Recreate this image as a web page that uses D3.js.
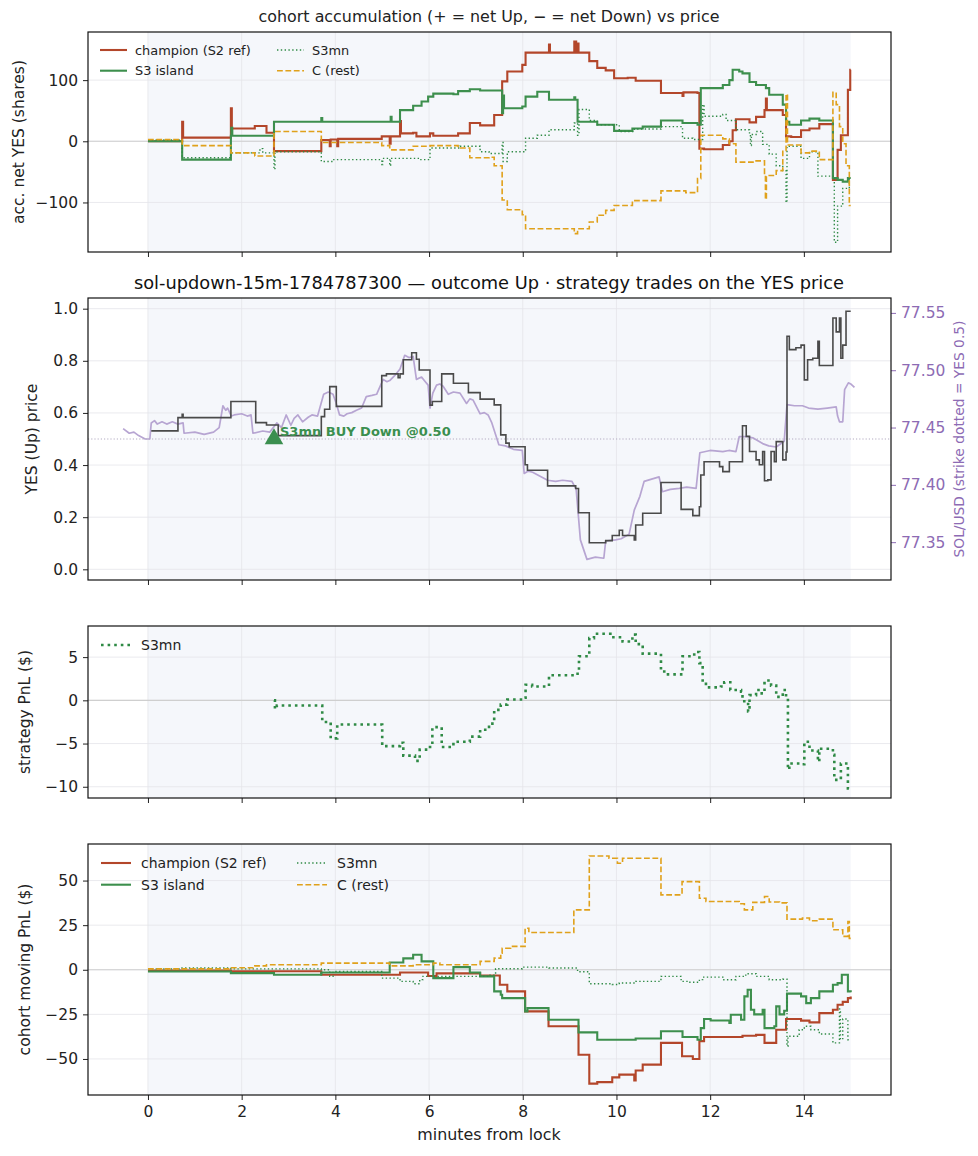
<!DOCTYPE html>
<html>
<head>
<meta charset="utf-8">
<script src="https://cdn.jsdelivr.net/npm/d3@7"></script>
<style>
  body { margin: 0; background: #fff; }
  svg { font-family: "DejaVu Sans", sans-serif; }
</style>
</head>
<body>
<div id="chart"></div>
<script>
// ---- data (minutes from lock, value) ----
const xTicks = [0, 2, 4, 6, 8, 10, 12, 14];

// panel 1: accumulated net YES shares per cohort
const accChampion = [[0,0],[0.73,32],[0.75,6],[1.77,54],[1.79,21],[2.28,25],[2.53,14],[2.69,-16],[3.70,2],[3.88,-8],[3.90,3],[4.04,-8],[4.06,4],[4.99,8],[5.16,-4],[5.18,8],[5.38,33],[5.40,13],[5.66,14],[5.73,8],[6.02,13],[6.09,9],[6.62,13],[6.87,30],[7.09,26],[7.39,43],[7.56,98],[7.67,114],[7.99,125],[8.06,145],[8.56,158],[8.58,145],[9.10,163],[9.14,145],[9.17,160],[9.19,145],[9.42,131],[9.59,120],[9.77,116],[9.95,103],[10.24,104],[10.41,99],[10.95,79],[11.41,74],[11.43,80],[11.73,79],[11.77,-12],[11.87,-13],[12.27,-6],[12.41,0],[12.48,18],[12.55,36],[12.84,31],[12.98,40],[13.16,51],[13.19,70],[13.21,51],[13.55,43],[13.62,8],[13.73,7],[13.94,18],[14.12,21],[14.33,28],[14.62,-63],[14.72,-14],[14.79,10],[14.94,84],[14.99,117],[15.0,117]];
const accIsland = [[0,0],[0.73,-30],[1.77,9],[1.78,22],[1.80,9],[2.69,32],[3.70,38],[3.72,32],[5.16,32],[5.18,40],[5.20,32],[5.38,51],[5.66,58],[5.84,65],[5.98,73],[6.09,78],[6.52,77],[6.62,82],[6.87,85],[7.09,83],[7.56,46],[7.58,75],[7.60,54],[7.99,57],[8.06,73],[8.31,81],[8.56,68],[9.10,72],[9.12,68],[9.17,32],[9.59,27],[9.95,17],[10.34,21],[10.56,24],[10.95,34],[11.41,30],[11.73,27],[11.80,87],[12.27,92],[12.41,100],[12.48,117],[12.62,114],[12.69,111],[12.84,97],[12.98,92],[13.19,87],[13.26,76],[13.55,60],[13.62,32],[13.69,27],[13.94,34],[14.12,37],[14.33,34],[14.62,-60],[14.72,-63],[14.83,-66],[14.94,-60],[15.0,-60]];
const accS3mn = [[0,2],[0.73,-27],[1.77,-19],[2.39,-12],[2.45,-19],[2.69,-46],[2.71,-17],[3.70,-33],[3.95,-30],[4.99,-38],[5.01,-28],[5.16,-40],[5.18,-28],[5.80,-30],[6.02,-11],[6.66,-8],[7.09,-17],[7.28,-20],[7.56,-2],[7.58,-33],[7.67,-17],[8.06,5],[8.31,10],[8.56,19],[9.10,30],[9.17,10],[9.20,52],[9.42,34],[9.59,27],[10.06,16],[10.38,20],[10.95,24],[11.41,5],[11.63,3],[11.84,60],[11.87,41],[12.27,44],[12.34,34],[12.55,19],[12.84,11],[12.86,-7],[12.88,11],[12.98,16],[13.12,-5],[13.26,-21],[13.41,-40],[13.55,-48],[13.62,-100],[13.64,-8],[13.94,-28],[14.12,-17],[14.30,-57],[14.62,-57],[14.65,-165],[14.72,-106],[14.83,-77],[14.97,-62],[15.0,-62]];
const accRest = [[0,3],[0.73,-7],[1.77,-19],[2.28,-24],[2.69,16],[3.70,-2],[4.99,-7],[5.16,-14],[5.66,-8],[6.02,-7],[6.62,-11],[6.87,-27],[7.28,-26],[7.39,-40],[7.56,-96],[7.67,-112],[7.99,-120],[8.06,-143],[9.10,-151],[9.17,-143],[9.42,-132],[9.59,-121],[9.77,-113],[9.95,-105],[10.34,-97],[10.95,-81],[11.48,-84],[11.73,-61],[11.80,10],[12.27,4],[12.41,-4],[12.55,-34],[12.98,-32],[13.16,-56],[13.18,-95],[13.20,-56],[13.41,-48],[13.55,-15],[13.62,77],[13.65,-6],[13.94,-19],[14.12,-16],[14.33,-30],[14.62,80],[14.69,60],[14.76,24],[14.83,-4],[14.90,-40],[14.97,-105],[15.0,-105]];

// panel 2: YES (Up) price and SOL/USD
const yesPrice = [[0.07,0.531],[0.64,0.582],[0.73,0.595],[0.75,0.582],[1.77,0.644],[2.30,0.563],[2.53,0.554],[2.78,0.513],[3.70,0.586],[3.77,0.614],[3.88,0.701],[4.02,0.625],[4.99,0.743],[5.09,0.750],[5.34,0.735],[5.38,0.750],[5.45,0.804],[5.63,0.831],[5.73,0.806],[5.79,0.765],[6.02,0.63],[6.07,0.644],[6.27,0.750],[6.52,0.714],[6.84,0.678],[7.09,0.653],[7.39,0.631],[7.53,0.516],[7.64,0.484],[7.71,0.47],[8.05,0.401],[8.10,0.38],[8.53,0.32],[9.13,0.31],[9.19,0.217],[9.42,0.102],[9.77,0.11],[9.91,0.13],[10.06,0.15],[10.13,0.13],[10.38,0.113],[10.41,0.17],[10.56,0.215],[10.95,0.333],[11.38,0.23],[11.63,0.206],[11.77,0.24],[11.80,0.362],[11.87,0.413],[12.20,0.394],[12.27,0.375],[12.41,0.413],[12.69,0.551],[12.77,0.51],[12.84,0.452],[12.98,0.42],[13.05,0.401],[13.12,0.452],[13.16,0.34],[13.23,0.343],[13.30,0.452],[13.37,0.413],[13.41,0.49],[13.55,0.42],[13.62,0.45],[13.64,0.894],[13.69,0.843],[13.83,0.85],[13.94,0.86],[14.01,0.727],[14.08,0.804],[14.19,0.81],[14.30,0.875],[14.33,0.782],[14.62,0.964],[14.69,0.911],[14.76,0.964],[14.79,0.81],[14.83,0.86],[14.90,0.99],[15.0,0.99]];
const solPrice = [[-0.53,77.449],[-0.40,77.445],[-0.30,77.446],[-0.20,77.443],[-0.06,77.440],[0.04,77.440],[0.07,77.454],[0.14,77.456],[0.20,77.453],[0.30,77.455],[0.40,77.453],[0.52,77.455],[0.64,77.453],[0.75,77.454],[0.77,77.445],[1.00,77.446],[1.20,77.444],[1.40,77.446],[1.52,77.450],[1.60,77.469],[1.66,77.465],[1.70,77.467],[1.78,77.460],[1.84,77.461],[2.00,77.462],[2.12,77.460],[2.20,77.461],[2.24,77.445],[2.45,77.447],[2.60,77.446],[2.75,77.454],[2.85,77.450],[2.95,77.461],[3.05,77.452],[3.12,77.458],[3.20,77.461],[3.30,77.455],[3.42,77.459],[3.50,77.461],[3.62,77.460],[3.75,77.479],[3.85,77.481],[3.95,77.479],[4.02,77.471],[4.09,77.461],[4.18,77.460],[4.25,77.462],[4.35,77.463],[4.45,77.465],[4.56,77.467],[4.66,77.477],[4.78,77.478],[4.88,77.479],[5.02,77.492],[5.10,77.490],[5.16,77.491],[5.28,77.496],[5.38,77.501],[5.48,77.513],[5.57,77.511],[5.66,77.512],[5.73,77.492],[5.84,77.494],[5.92,77.490],[5.98,77.487],[6.02,77.467],[6.08,77.480],[6.16,77.487],[6.23,77.488],[6.30,77.486],[6.41,77.479],[6.52,77.481],[6.66,77.480],[6.80,77.471],[6.87,77.475],[6.94,77.474],[7.09,77.462],[7.18,77.463],[7.26,77.461],[7.34,77.454],[7.49,77.435],[7.63,77.434],[7.80,77.431],[7.99,77.430],[8.03,77.410],[8.12,77.412],[8.21,77.411],[8.35,77.408],[8.53,77.404],[8.70,77.403],[8.85,77.404],[9.05,77.403],[9.14,77.396],[9.23,77.352],[9.37,77.335],[9.55,77.337],[9.73,77.336],[9.77,77.351],[9.98,77.352],[10.10,77.353],[10.27,77.357],[10.38,77.378],[10.50,77.390],[10.59,77.403],[10.75,77.405],[10.91,77.407],[10.98,77.394],[11.15,77.396],[11.34,77.397],[11.50,77.398],[11.70,77.397],[11.78,77.428],[12.00,77.430],[12.27,77.429],[12.40,77.430],[12.55,77.429],[12.62,77.442],[12.80,77.442],[12.91,77.441],[13.12,77.436],[13.25,77.434],[13.41,77.433],[13.58,77.438],[13.64,77.470],[13.80,77.469],[13.97,77.469],[14.10,77.467],[14.30,77.466],[14.50,77.467],[14.69,77.468],[14.72,77.460],[14.76,77.455],[14.83,77.455],[14.87,77.483],[14.95,77.489],[15.00,77.488],[15.08,77.485]];
const strikeUsd = 77.4404;
const trade = { t: 2.69, price: 0.50, label: 'S3mn BUY Down @0.50' };

// panel 3: strategy PnL
const stratPnl = [[2.69,0],[2.71,-1.0],[2.75,-0.6],[3.70,-0.6],[3.72,-2.5],[3.88,-2.5],[3.90,-4.4],[4.02,-4.4],[4.04,-2.8],[4.99,-2.8],[5.0,-5.3],[5.38,-4.9],[5.45,-6.4],[5.70,-7.0],[5.80,-5.7],[6.02,-5.4],[6.07,-3.1],[6.27,-5.4],[6.52,-4.8],[6.87,-4.2],[7.09,-3.4],[7.28,-2.7],[7.39,-1.1],[7.53,-0.5],[7.67,0.1],[7.99,0.3],[8.06,1.8],[8.20,1.6],[8.56,2.9],[9.17,3.5],[9.20,5.1],[9.42,7.2],[9.52,7.7],[9.87,7.3],[10.13,6.8],[10.34,7.6],[10.41,6.5],[10.56,5.4],[10.95,3.5],[11.02,3.0],[11.41,5.1],[11.66,5.6],[11.77,4.3],[11.84,2.1],[11.91,1.5],[12.23,1.6],[12.30,2.1],[12.43,1.2],[12.66,1.0],[12.69,-0.1],[12.81,-1.3],[12.84,0.6],[12.98,1.2],[13.10,0.8],[13.16,2.3],[13.30,1.7],[13.41,0.4],[13.55,1.2],[13.62,0.4],[13.66,-8.0],[13.69,-7.3],[13.94,-7.4],[14.01,-4.8],[14.12,-5.8],[14.30,-7.1],[14.33,-5.6],[14.62,-6.3],[14.65,-9.2],[14.79,-7.3],[14.90,-7.3],[14.94,-10.2],[15.0,-10.2]];

// panel 4: cohort moving PnL
const pnlChampion = [[0,-0.4],[1.77,-0.8],[3.70,-2.8],[5.38,-1.5],[5.98,-3.5],[6.16,-2.0],[7.09,-3.2],[7.51,-8.4],[7.67,-12.1],[8.05,-23.3],[8.55,-31.7],[9.19,-47.6],[9.42,-63.8],[9.59,-63],[9.91,-60.3],[10.06,-58.8],[10.38,-62],[10.41,-56.5],[10.56,-53.2],[10.95,-41.0],[11.40,-48.5],[11.63,-50],[11.77,-40],[11.87,-37.7],[12.69,-37],[12.98,-36.5],[13.16,-41],[13.41,-33.6],[13.62,-27.6],[13.94,-28.5],[14.12,-29.5],[14.33,-24.3],[14.62,-22.4],[14.72,-19.6],[14.83,-18],[14.94,-15.9],[15.0,-15]];
const pnlIsland = [[0,-1],[1.77,-1.9],[2.69,-2.8],[3.70,-1.5],[5.16,4.1],[5.45,6.4],[5.66,8.4],[5.84,4.7],[6.09,-4.7],[6.52,1.5],[6.87,-1.5],[7.09,-3.7],[7.39,-12.1],[7.53,-14.0],[7.56,-15.9],[8.05,-23.3],[8.10,-21.5],[8.55,-28],[9.19,-35.1],[9.59,-39.2],[10.41,-38.5],[10.95,-34.5],[11.41,-37.7],[11.73,-39.2],[11.80,-32.7],[11.87,-27.6],[12.01,-28.4],[12.41,-29.8],[12.44,-25.2],[12.66,-28],[12.73,-14.9],[12.80,-11.2],[12.87,-22.4],[12.94,-25],[13.12,-22.4],[13.16,-32.7],[13.37,-31.7],[13.41,-20.5],[13.48,-25],[13.58,-23],[13.64,-13.4],[13.94,-14.9],[14.05,-18.7],[14.15,-15.9],[14.33,-12.1],[14.62,-8.4],[14.72,-7.5],[14.81,-2.8],[14.94,-12.1],[15.0,-12.6]];
const pnlS3mn = [[0,0.5],[0.7,1],[1.77,0.5],[3.70,0],[3.88,-3.7],[3.95,-1],[4.99,-4.7],[5.38,-6.5],[5.66,-7.8],[5.80,-5.5],[5.87,-3.7],[7.28,-3.0],[7.42,0.6],[7.99,1.5],[8.56,1],[9.17,-1.1],[9.42,-7.8],[9.91,-8.3],[10.06,-7.4],[10.41,-6.5],[10.95,-3.7],[11.38,-6.5],[11.55,-7.0],[11.77,-5.5],[11.84,-4.1],[12.27,-5.6],[12.55,-3.7],[12.76,-2.2],[12.98,-3.7],[13.26,-5.6],[13.55,-5.3],[13.64,-42.9],[13.66,-37.3],[13.90,-33.6],[14.01,-31.7],[14.15,-33.6],[14.33,-36.0],[14.62,-41],[14.76,-22],[14.78,-39],[14.83,-27.6],[14.94,-39.2],[15.0,-39.5]];
const pnlRest = [[0,0.5],[1.77,1.1],[2.28,2.2],[2.53,2.8],[3.70,3.7],[5.16,2.2],[5.66,2.8],[6.09,3.7],[6.23,2.8],[7.09,4.7],[7.39,6.5],[7.53,9.3],[7.56,12.1],[7.74,13.1],[8.05,23.3],[8.13,20.9],[9.09,33.6],[9.42,63.8],[9.84,62.5],[10.02,59.7],[10.13,62.5],[10.95,42],[11.40,49.4],[11.77,40.1],[11.91,38.3],[12.62,37],[12.73,33.6],[12.91,37.8],[13.16,41.1],[13.26,38],[13.48,37.5],[13.64,28.4],[13.97,29],[14.12,27.5],[14.33,28.4],[14.62,22.4],[14.83,18.7],[14.94,27],[14.97,17.6],[15.0,17.6]];

// ---- layout ----
const width = 978, height = 1156;
const plotLeft = 88, plotRight = 891;
const minus = d => (d < 0 ? '\u2212' + Math.abs(d) : String(d));

const colors = {
    champion: '#b3462a',
    island: '#3d8f4d',
    s3mn: '#2f8a45',
    rest: '#e0a11b',
    price: '#4a4a4a',
    sol: '#b7a5d2',
    purple: '#8d6bb4'
};

const svg = d3.select('#chart')
    .append('svg')
        .attr('width', width)
        .attr('height', height);

const x = d3.scaleLinear().domain([-1.28, 15.86]).range([plotLeft, plotRight]);

let clipId = 0;
// builds an axes box: span, grid, clip group, y axis; returns scale + groups
function makePanel(top, bottom, yDomain, yTicks, fmt, zeroLine) {
    const y = d3.scaleLinear().domain(yDomain).range([bottom, top]);
    const g = svg.append('g');

    // shaded window 0..15 min
    g.append('rect')
        .attr('x', x(0)).attr('y', top)
        .attr('width', x(15) - x(0)).attr('height', bottom - top)
        .attr('fill', '#f5f7fb');

    // grid
    g.selectAll('.vgrid').data(xTicks).join('line')
        .attr('x1', d => x(d)).attr('x2', d => x(d))
        .attr('y1', top).attr('y2', bottom)
        .attr('stroke', '#e4e5ea').attr('stroke-width', 0.8);
    g.selectAll('.hgrid').data(yTicks).join('line')
        .attr('x1', plotLeft).attr('x2', plotRight)
        .attr('y1', d => y(d)).attr('y2', d => y(d))
        .attr('stroke', '#e4e5ea').attr('stroke-width', 0.8);

    if (zeroLine) {
        g.append('line')
            .attr('x1', plotLeft).attr('x2', plotRight)
            .attr('y1', y(0)).attr('y2', y(0))
            .attr('stroke', '#cfcfcf').attr('stroke-width', 1.1);
    }

    const id = 'clip' + (clipId++);
    svg.append('clipPath').attr('id', id)
        .append('rect')
            .attr('x', plotLeft).attr('y', top)
            .attr('width', plotRight - plotLeft).attr('height', bottom - top);
    const plot = g.append('g').attr('clip-path', 'url(#' + id + ')');

    // y axis
    const ay = g.append('g')
        .attr('transform', 'translate(' + plotLeft + ',0)')
        .call(d3.axisLeft(y).tickValues(yTicks).tickSize(5).tickPadding(5).tickFormat(fmt));
    ay.select('.domain').remove();
    ay.selectAll('text').attr('font-size', 15.5).attr('fill', '#222').attr('font-family', 'DejaVu Sans');
    ay.selectAll('line').attr('stroke', '#222');

    return { y, g, plot, top, bottom };
}

function xAxis(p, labels) {
    const ax = p.g.append('g')
        .attr('transform', 'translate(0,' + p.bottom + ')')
        .call(d3.axisBottom(x).tickValues(xTicks).tickSize(5).tickPadding(6)
            .tickFormat(labels ? d => d : ''));
    ax.select('.domain').remove();
    ax.selectAll('text').attr('font-size', 15.5).attr('fill', '#222').attr('font-family', 'DejaVu Sans');
    ax.selectAll('line').attr('stroke', '#222');
}

function frame(p) {
    p.g.append('rect')
        .attr('x', plotLeft).attr('y', p.top)
        .attr('width', plotRight - plotLeft).attr('height', p.bottom - p.top)
        .attr('fill', 'none').attr('stroke', '#111').attr('stroke-width', 1.2);
}

function yLabel(text, xPos, p, color) {
    svg.append('text')
        .attr('transform', 'translate(' + xPos + ',' + (p.top + p.bottom) / 2 + ') rotate(-90)')
        .attr('text-anchor', 'middle')
        .attr('font-size', 15.5)
        .attr('fill', color || '#222')
        .text(text);
}

const step = (p) => d3.line().curve(d3.curveStepAfter).x(d => x(d[0])).y(d => p.y(d[1]));

const series = {
    champion: { label: 'champion (S2 ref)', color: colors.champion, width: 2.1, dash: null },
    island: { label: 'S3 island', color: colors.island, width: 2.1, dash: null },
    s3mn: { label: 'S3mn', color: colors.s3mn, width: 1.4, dash: '1.4,2.4' },
    rest: { label: 'C (rest)', color: colors.rest, width: 1.6, dash: '5.8,2.6' }
};

function drawSeries(p, data, s, widthOverride, dashOverride) {
    p.plot.append('path')
        .datum(data)
        .attr('d', step(p))
        .attr('fill', 'none')
        .attr('stroke', s.color)
        .attr('stroke-width', widthOverride || s.width)
        .attr('stroke-dasharray', dashOverride || s.dash)
        .attr('stroke-linejoin', 'miter');
}

function legend(items, x0, y0, colX, rowH, lineLen, textGap, fontSize) {
    items.forEach((it, i) => {
        const col = Math.floor(i / 2), row = i % 2;
        const lx = x0 + col * colX, ly = y0 + row * rowH;
        svg.append('line')
            .attr('x1', lx).attr('x2', lx + lineLen)
            .attr('y1', ly).attr('y2', ly)
            .attr('stroke', it.s.color)
            .attr('stroke-width', it.w || it.s.width)
            .attr('stroke-dasharray', it.dash || it.s.dash);
        svg.append('text')
            .attr('x', lx + lineLen + textGap).attr('y', ly)
            .attr('dy', '0.35em')
            .attr('font-size', fontSize)
            .attr('fill', '#222')
            .text(it.s.label);
    });
}

// ---- panel 1: accumulation ----
const p1 = makePanel(32, 252, [-181, 178.7], [-100, 0, 100], minus, true);
drawSeries(p1, accChampion, series.champion);
drawSeries(p1, accIsland, series.island);
drawSeries(p1, accS3mn, series.s3mn);
drawSeries(p1, accRest, series.rest);
xAxis(p1, false);
frame(p1);
yLabel('acc. net YES (shares)', 24, p1);
svg.append('text')
    .attr('x', 489).attr('y', 22)
    .attr('text-anchor', 'middle').attr('font-size', 15.9).attr('fill', '#222')
    .text('cohort accumulation (+ = net Up, \u2212 = net Down) vs price');
legend([{ s: series.champion }, { s: series.island }, { s: series.s3mn }, { s: series.rest }],
    100, 50, 177, 20.7, 27, 8, 12.9);

// ---- panel 2: YES price + SOL ----
const p2 = makePanel(298, 580, [-0.041, 1.041], [0, 0.2, 0.4, 0.6, 0.8, 1.0], d3.format('.1f'), false);
const ySol = d3.scaleLinear().domain([77.317, 77.563]).range([580, 298]);

p2.plot.append('path')
    .datum(solPrice)
    .attr('d', d3.line().x(d => x(d[0])).y(d => ySol(d[1])))
    .attr('fill', 'none')
    .attr('stroke', colors.sol)
    .attr('stroke-width', 1.7)
    .attr('stroke-linejoin', 'round');

// strike (YES 0.5)
p2.plot.append('line')
    .attr('x1', plotLeft).attr('x2', plotRight)
    .attr('y1', p2.y(0.5)).attr('y2', p2.y(0.5))
    .attr('stroke', '#b3abc2').attr('stroke-width', 1)
    .attr('stroke-dasharray', '1.2,2');

drawSeries(p2, yesPrice, { color: colors.price, width: 1.6, dash: null });

// trade marker
p2.plot.append('path')
    .attr('d', d3.symbol(d3.symbolTriangle, 150)())
    .attr('transform', 'translate(' + x(trade.t) + ',' + p2.y(trade.price) + ')')
    .attr('fill', '#3b8f4f');
p2.plot.append('text')
    .attr('x', x(trade.t) + 6).attr('y', p2.y(trade.price) - 3.5)
    .attr('font-size', 13).attr('font-weight', 'bold')
    .attr('fill', '#3b8f4f')
    .text(trade.label);

// right axis
const ar = p2.g.append('g')
    .attr('transform', 'translate(' + plotRight + ',0)')
    .call(d3.axisRight(ySol).tickValues([77.35, 77.40, 77.45, 77.50, 77.55]).tickSize(5).tickPadding(5).tickFormat(d3.format('.2f')));
ar.select('.domain').remove();
ar.selectAll('text').attr('font-size', 15.5).attr('fill', colors.purple).attr('font-family', 'DejaVu Sans');
ar.selectAll('line').attr('stroke', colors.purple);

xAxis(p2, false);
frame(p2);
yLabel('YES (Up) price', 37, p2);
svg.append('text')
    .attr('transform', 'translate(964,' + (298 + 580) / 2 + ') rotate(-90)')
    .attr('text-anchor', 'middle').attr('font-size', 13.8).attr('fill', colors.purple)
    .text('SOL/USD (strike dotted = YES 0.5)');
svg.append('text')
    .attr('x', 489).attr('y', 289)
    .attr('text-anchor', 'middle').attr('font-size', 17.8).attr('fill', '#111')
    .text('sol-updown-15m-1784787300 \u2014 outcome Up \u00b7 strategy trades on the YES price');

// ---- panel 3: strategy PnL ----
const p3 = makePanel(626, 798, [-11.3, 8.6], [-10, -5, 0, 5], minus, true);
drawSeries(p3, stratPnl, series.s3mn, 2.6, '2.6,4');
xAxis(p3, false);
frame(p3);
yLabel('strategy PnL ($)', 30, p3);
legend([{ s: series.s3mn, w: 2.6, dash: '2.6,4' }], 101, 645, 0, 0, 29, 11, 14);

// ---- panel 4: cohort moving PnL ----
const p4 = makePanel(844, 1095, [-70.2, 70.5], [-50, -25, 0, 25, 50], minus, true);
drawSeries(p4, pnlChampion, series.champion);
drawSeries(p4, pnlIsland, series.island);
drawSeries(p4, pnlS3mn, series.s3mn);
drawSeries(p4, pnlRest, series.rest);
xAxis(p4, true);
frame(p4);
yLabel('cohort moving PnL ($)', 30, p4);
legend([{ s: series.champion }, { s: series.island }, { s: series.s3mn }, { s: series.rest }],
    101, 863, 196, 21.7, 30, 10, 14);

svg.append('text')
    .attr('x', 489).attr('y', 1140)
    .attr('text-anchor', 'middle').attr('font-size', 15.9).attr('fill', '#222')
    .text('minutes from lock');
</script>
</body>
</html>
